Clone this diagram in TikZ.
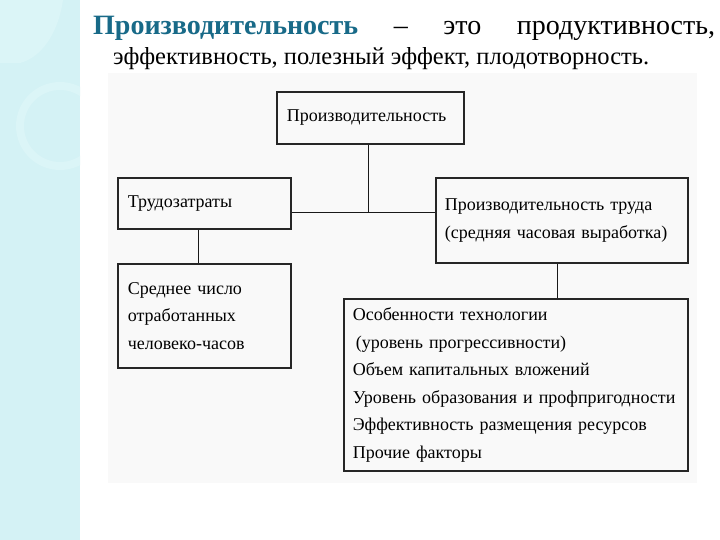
\documentclass[tikz,border=0pt]{standalone}
\usepackage{fontspec}
\setmainfont{Liberation Serif}
\definecolor{titleblue}{RGB}{24,106,136}
\definecolor{stripcyan}{RGB}{212,242,245}
\definecolor{ringcyan}{RGB}{219,245,247}
\tikzset{
  box/.style={draw=black!85, line width=1.6pt, anchor=north west, align=left,
    inner xsep=10pt, inner ysep=0pt, font=\fontsize{18}{27.5}\selectfont},
  link/.style={line width=0.8pt, black!90},
}
\begin{document}
\begin{tikzpicture}[x=1pt,y=-1pt]
\useasboundingbox (0,0) rectangle (720,540);
\fill[white] (0,0) rectangle (720,540);
\fill[stripcyan] (0,0) rectangle (80,540);
\begin{scope}
\clip (0,0) rectangle (80,540);
\fill[ringcyan] (0,0) -- (63,0) .. controls (58,35) and (40,58) .. (20,63) -- (0,63) -- cycle;
\fill[ringcyan, even odd rule] (60,126) circle (44pt) (60,126) circle (36pt);
\end{scope}
\fill[gray!5] (108,73) rectangle (697,483);

\node[anchor=base west, inner sep=0pt, font=\fontsize{28}{32}\selectfont] (title) at (93,35)
  {\makebox[622pt]{{\bfseries\color{titleblue}Производительность}\hfill–\hfill это\hfill продуктивность,}};
\node[anchor=base west, inner sep=0pt, font=\fontsize{24.5}{28}\selectfont] (subtitle) at (113,65)
  {эффективность, полезный эффект, плодотворность.};

\node[box, text width=167pt, minimum height=52pt] (prod) at (276,91) {Производительность};
\node[box, text width=153pt, minimum height=51pt] (trud) at (117,177) {Трудозатраты};
\node[box, text width=234pt, minimum height=85pt, inner xsep=9pt] (ptr) at (435,177)
  {Производительность труда\\(средняя часовая выработка)};
\node[box, text width=153pt, minimum height=104pt] (sred) at (117,263)
  {Среднее число\\отработанных\\человеко-часов};
\node[box, text width=326pt, minimum height=172pt, inner xsep=9pt] (fact) at (343,298)
  {Особенности технологии\\\hspace*{3pt}(уровень прогрессивности)\\Объем капитальных вложений\\Уровень образования и профпригодности\\Эффективность размещения ресурсов\\Прочие факторы};

\coordinate (jn) at (368,212);
\draw[link] (prod.south -| jn) -- (jn);
\draw[link] (trud.east |- jn) -- (ptr.west |- jn);
\draw[link] ([xshift=-6pt]trud.south) -- ([xshift=-6pt]trud.south |- sred.north);
\draw[link] ([xshift=-4pt]ptr.south) -- ([xshift=-4pt]ptr.south |- fact.north);
\end{tikzpicture}
\end{document}
